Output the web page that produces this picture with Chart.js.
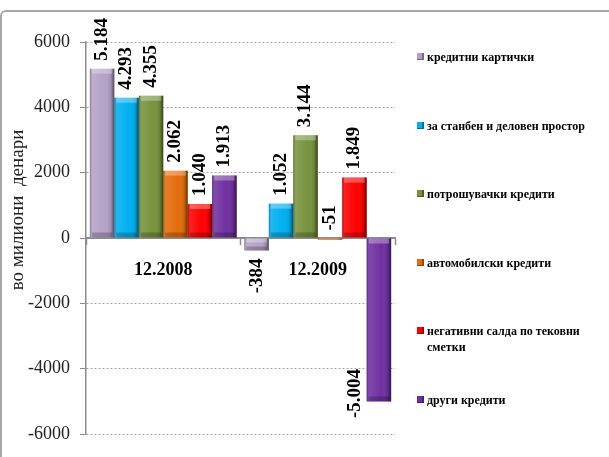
<!DOCTYPE html>
<html>
<head>
<meta charset="utf-8">
<script src="https://cdn.jsdelivr.net/npm/chart.js@4.4.0/dist/chart.umd.min.js"></script>
<style>
  body { margin: 0; background: #fff; }
  #wrap { position: relative; width: 609px; height: 457px; overflow: hidden; }
  #frame { position: absolute; left: 0; top: 10px; width: 640px; height: 480px;
           border: 2px solid #a6a6a6; border-radius: 6px; }
  #chart { position: absolute; left: 0; top: 0; }
  #legend { position: absolute; left: 417px; top: 49px; width: 176px;
            font: bold 12px "Liberation Serif", serif; color: #000; line-height: 16px; }
  .item { height: 68.6px; display: flex; align-items: flex-start; }
  .sw { width: 7px; height: 7px; margin: 4px 3px 0 0; flex: none; box-shadow: inset -2px -1px 0 rgba(0,0,0,0.35); }
</style>
</head>
<body>
<div id="wrap">
  <div id="frame"></div>
  <canvas id="chart" width="609" height="457"></canvas>
  <div id="legend"></div>
</div>
<script>
// data (millions of denars)
const categories = ["12.2008", "12.2009"];
const seriesNames = [
  "кредитни картички",
  "за станбен и деловен простор",
  "потрошувачки кредити",
  "автомобилски кредити",
  "негативни салда по тековни сметки",
  "други кредити",
];
const creditCards = [5184, -384];
const housing = [4293, 1052];
const consumer = [4355, 3144];
const cars = [2062, -51];
const overdrafts = [1040, 1849];
const other = [1913, -5004];
const yTicks = [-6000, -4000, -2000, 0, 2000, 4000, 6000];

const seriesValues = [creditCards, housing, consumer, cars, overdrafts, other];
const colors = ["#b3a2c7", "#00b0f0", "#77933c", "#e46c0a", "#ff0000", "#7030a0"];

function fmt(v) {
  const s = String(Math.abs(v)).replace(/\B(?=(\d{3})+(?!\d))/g, ".");
  return (v < 0 ? "-" : "") + s;
}

// bevel-ish shading and value labels
const barDecor = {
  id: "barDecor",
  afterDatasetsDraw(chart) {
    const ctx = chart.ctx;
    const area = chart.chartArea;
    ctx.save();
    chart.data.datasets.forEach((ds, i) => {
      chart.getDatasetMeta(i).data.forEach((bar) => {
        const l = bar.x - bar.width / 2, r = bar.x + bar.width / 2;
        const t = Math.min(bar.y, bar.base), b = Math.max(bar.y, bar.base);
        if (b - t < 1) return;
        const g = ctx.createLinearGradient(l, 0, r, 0);
        g.addColorStop(0, "rgba(0,0,0,0.3)");
        g.addColorStop(0.1, "rgba(255,255,255,0.12)");
        g.addColorStop(0.6, "rgba(255,255,255,0)");
        g.addColorStop(0.86, "rgba(0,0,0,0.12)");
        g.addColorStop(1, "rgba(0,0,0,0.55)");
        ctx.fillStyle = g;
        ctx.fillRect(l, t, r - l, b - t);
        const bh = Math.min(5, (b - t) / 3);
        ctx.fillStyle = "rgba(255,255,255,0.3)";
        ctx.fillRect(l + 2, t, r - l - 4, bh);
        ctx.fillStyle = "rgba(0,0,0,0.22)";
        ctx.fillRect(l + 2, b - bh, r - l - 4, bh);
      });
    });

    ctx.font = 'bold 19px "Liberation Serif", serif';
    ctx.fillStyle = "#000";
    ctx.textBaseline = "middle";
    const gap = 8;
    chart.data.datasets.forEach((ds, i) => {
      chart.getDatasetMeta(i).data.forEach((bar, j) => {
        const v = ds.data[j];
        const text = fmt(v);
        const w = ctx.measureText(text).width;
        const len = Math.abs(bar.base - bar.y);
        let x = bar.x, y, align;
        if (v >= 0 || len < 6) {
          y = Math.min(bar.y, bar.base) - gap;
          align = "left";
        } else if (bar.y + gap + w < area.bottom - 10) {
          y = bar.y + gap;
          align = "right";
        } else {
          x = bar.x - bar.width / 2 - 12;
          y = bar.y - 8;
          align = "center";
        }
        ctx.save();
        ctx.translate(x, y);
        ctx.rotate(-Math.PI / 2);
        ctx.textAlign = align;
        ctx.fillText(text, 0, 0);
        ctx.restore();
      });
    });

    // y axis title
    ctx.font = '19px "Liberation Serif", serif';
    ctx.fillStyle = "#222";
    ctx.textAlign = "center";
    ctx.translate(18, 210);
    ctx.rotate(-Math.PI / 2);
    ctx.fillText("во милиони  денари", 0, 0);
    ctx.restore();
  },
};

new Chart(document.getElementById("chart"), {
  type: "bar",
  data: {
    labels: categories,
    datasets: seriesValues.map((vals, i) => ({
      label: seriesNames[i],
      data: vals,
      backgroundColor: colors[i],
      borderWidth: 0,
      barPercentage: 1,
      categoryPercentage: 0.95,
    })),
  },
  options: {
    responsive: false,
    animation: false,
    layout: { padding: { left: 8, right: 214, top: 42, bottom: 23 } },
    plugins: { legend: { display: false }, tooltip: { enabled: false } },
    scales: {
      x: {
        position: { y: 0 },
        grid: { drawOnChartArea: false, tickLength: 6, tickColor: "#8c8c8c", tickWidth: 1.5 },
        border: { color: "#8c8c8c", width: 2 },
        ticks: { color: "#000", padding: 16, maxRotation: 0,
                 font: { family: "Liberation Serif", size: 18, weight: "bold" } },
      },
      y: {
        min: -6000,
        max: 6000,
        afterFit(scale) { scale.width = 78; },
        afterBuildTicks(scale) { scale.ticks = yTicks.map((v) => ({ value: v })); },
        grid: { color: "#a6a6a6", lineWidth: 1, tickLength: 6, tickColor: "#8c8c8c" },
        border: { color: "#8c8c8c", width: 1.5, dash: [2, 2] },
        ticks: { color: "#222", padding: 10, callback: (v) => String(v),
                 font: { family: "Liberation Serif", size: 18 } },
      },
    },
  },
  plugins: [barDecor],
});

const legend = document.getElementById("legend");
seriesNames.forEach((name, i) => {
  const item = document.createElement("div");
  item.className = "item";
  const sw = document.createElement("span");
  sw.className = "sw";
  sw.style.background = colors[i];
  const txt = document.createElement("span");
  txt.textContent = name;
  item.appendChild(sw);
  item.appendChild(txt);
  legend.appendChild(item);
});
</script>
</body>
</html>
